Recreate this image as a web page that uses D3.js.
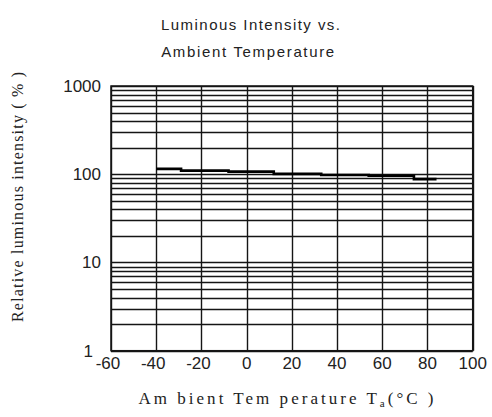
<!DOCTYPE html>
<html>
<head>
<meta charset="utf-8">
<script src="https://cdn.jsdelivr.net/npm/d3@7"></script>
<style>
  html, body { margin: 0; padding: 0; background: #fff; }
  svg { display: block; }
</style>
</head>
<body>
<div id="chart"></div>
<script>
// ---- data ----
const titleLines = ["Luminous Intensity vs.", "Ambient Temperature"];
const xTicks = [-60, -40, -20, 0, 20, 40, 60, 80, 100];
const yTicks = [1, 10, 100, 1000];
const yTickLabels = ["1", "10", "100", "1000"];
const yMinor = [2,3,4,5,6,7,8,9,20,30,40,50,60,70,80,90,200,300,400,500,600,700,800,900];
const tempC = [-40, -29, -8, 12, 33, 54, 74, 84];
const relIntensity = [115, 110, 107, 101, 98, 96, 88, 88];

const W = 492, H = 417;
const svg = d3.select("#chart").append("svg").attr("width", W).attr("height", H);

const x = d3.scaleLinear().domain([-60, 100]).range([111, 472.7]);
const y = d3.scaleLog().domain([1, 1000]).range([350.7, 86]);

const ink = "#151515";
const sans = "'Liberation Sans', Arial, sans-serif";
const serif = "'Liberation Serif', 'DejaVu Serif', serif";

// title
svg.append("text").attr("x", 250.5).attr("y", 30)
  .attr("text-anchor", "middle").attr("font-family", sans)
  .attr("font-size", 15).attr("fill", "#222")
  .attr("textLength", 179).attr("lengthAdjust", "spacing")
  .text(titleLines[0]);
svg.append("text").attr("x", 247.7).attr("y", 57)
  .attr("text-anchor", "middle").attr("font-family", sans)
  .attr("font-size", 15).attr("fill", "#222")
  .attr("textLength", 173).attr("lengthAdjust", "spacing")
  .text(titleLines[1]);

const g = svg.append("g");

// horizontal grid (minor + major)
g.selectAll("line.h").data(yMinor.concat(yTicks)).enter().append("line")
  .attr("x1", x(-60)).attr("x2", x(100))
  .attr("y1", d => Math.round(y(d)) + 0.5).attr("y2", d => Math.round(y(d)) + 0.5)
  .attr("stroke", ink).attr("stroke-width", 1.4);

// vertical grid
g.selectAll("line.v").data(xTicks).enter().append("line")
  .attr("y1", y(1000)).attr("y2", y(1))
  .attr("x1", d => Math.round(x(d)) + 0.5).attr("x2", d => Math.round(x(d)) + 0.5)
  .attr("stroke", ink).attr("stroke-width", 1.4);

// border
g.append("rect")
  .attr("x", x(-60)).attr("y", y(1000))
  .attr("width", x(100) - x(-60)).attr("height", y(1) - y(1000))
  .attr("fill", "none").attr("stroke", ink).attr("stroke-width", 1.5);

// data line
const pts = tempC.map((t, i) => [t, relIntensity[i]]);
g.append("path").datum(pts)
  .attr("fill", "none").attr("stroke", "#000").attr("stroke-width", 2.6)
  .attr("d", d3.line().x(d => x(d[0])).y(d => y(d[1])).curve(d3.curveStepAfter));

// x tick labels
svg.selectAll("text.xt").data(xTicks).enter().append("text")
  .attr("x", d => x(d) - (d < 0 ? 3 : 0)).attr("y", 369)
  .attr("text-anchor", "middle")
  .attr("font-family", sans).attr("font-size", 17)
  .attr("fill", "#222")
  .text(d => d < 0 ? "-" + Math.abs(d) : String(d));

// y tick labels
svg.selectAll("text.yt").data(yTicks).enter().append("text")
  .attr("x", d => d === 1 ? 93 : 101).attr("y", d => y(d) + 6)
  .attr("text-anchor", "end")
  .attr("font-family", sans).attr("font-size", 17)
  .attr("fill", "#222")
  .text((d, i) => yTickLabels[i]);

// x axis title
const xt = svg.append("text").attr("x", 138.5).attr("y", 404)
  .attr("font-family", serif).attr("font-size", 17)
  .attr("fill", "#222")
  .attr("textLength", 295).attr("lengthAdjust", "spacing");
xt.append("tspan").text("Am bient Tem perature T");
xt.append("tspan").attr("font-size", 11).attr("dy", 3).text("a");
xt.append("tspan").attr("dy", -3).text("(°C )");

// y axis title
svg.append("text")
  .attr("transform", "translate(23,197) rotate(-90)")
  .attr("text-anchor", "middle")
  .attr("font-family", serif).attr("font-size", 16)
  .attr("fill", "#222")
  .attr("textLength", 250).attr("lengthAdjust", "spacing")
  .text("Relative luminous intensity ( % )");
</script>
</body>
</html>
